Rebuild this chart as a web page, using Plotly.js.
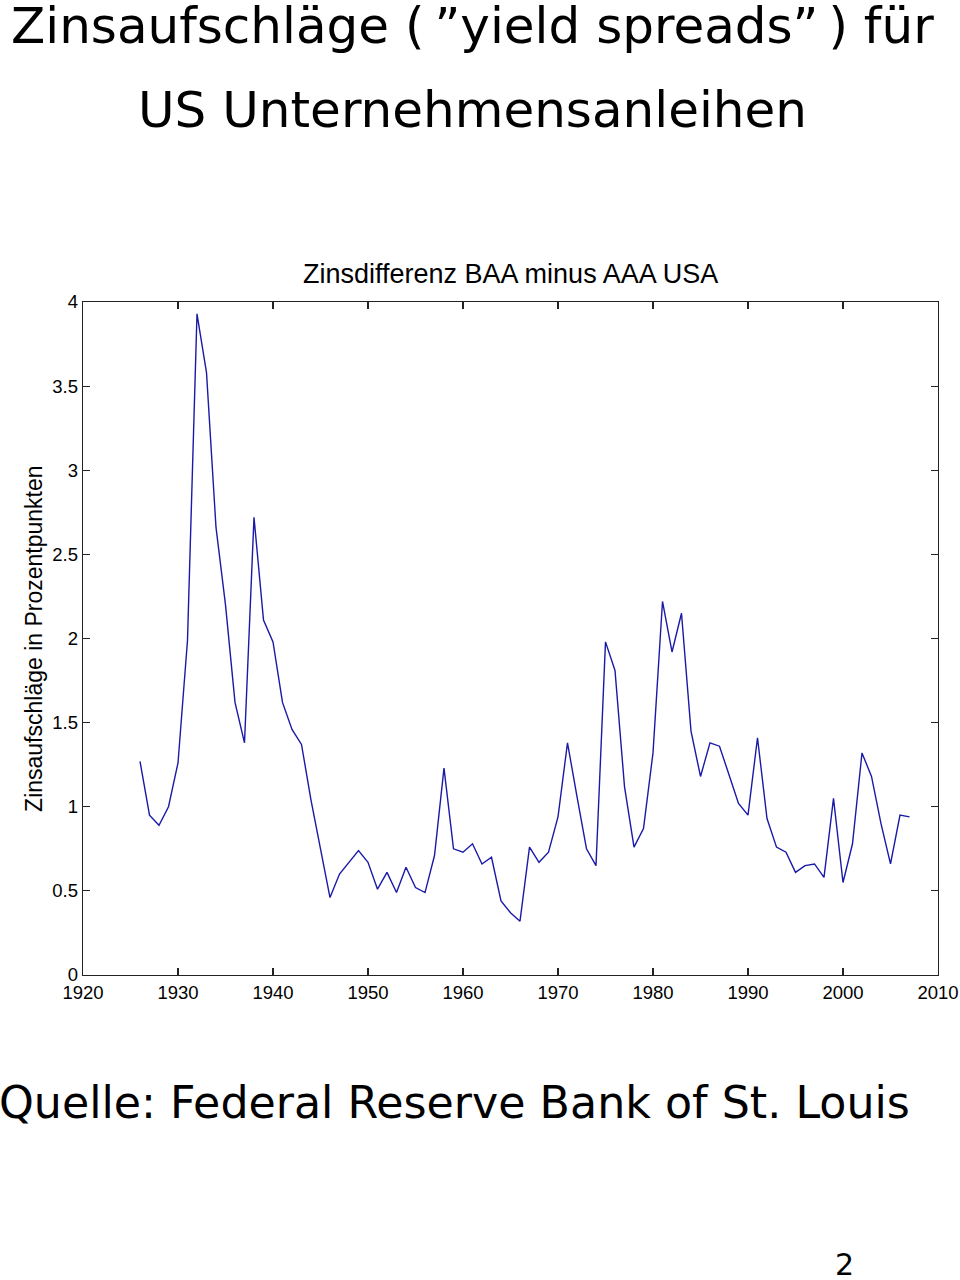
<!DOCTYPE html>
<html>
<head>
<meta charset="utf-8">
<script src="https://cdn.plot.ly/plotly-3.0.1.min.js"></script>
<style>
html,body{margin:0;padding:0;background:#fff;}
#chart{width:960px;height:1280px;}
</style>
</head>
<body>
<div id="chart"></div>
<script>
const years = [];
for (let y = 1926; y <= 2007; y++) years.push(y);
const spreads = [
  1.27, 0.95, 0.89, 1.00, 1.26, 1.99, 3.93, 3.58, 2.66, 2.20,
  1.62, 1.38, 2.72, 2.11, 1.98, 1.62, 1.46, 1.37, 1.04, 0.75,
  0.46, 0.60, 0.67, 0.74, 0.67, 0.51, 0.61, 0.49, 0.64, 0.52,
  0.49, 0.71, 1.23, 0.75, 0.73, 0.78, 0.66, 0.70, 0.44, 0.37,
  0.32, 0.76, 0.67, 0.73, 0.94, 1.38, 1.06, 0.75, 0.65, 1.98,
  1.81, 1.12, 0.76, 0.87, 1.32, 2.22, 1.92, 2.15, 1.45, 1.18,
  1.38, 1.36, 1.19, 1.02, 0.95, 1.41, 0.93, 0.76, 0.73, 0.61,
  0.65, 0.66, 0.58, 1.05, 0.55, 0.78, 1.32, 1.18, 0.90, 0.66,
  0.95, 0.94
];
const xTickVals = [1920, 1930, 1940, 1950, 1960, 1970, 1980, 1990, 2000, 2010];
const xTickText = ["1920","1930","1940","1950","1960","1970","1980","1990","2000","2010"];
const yTickVals = [0, 0.5, 1, 1.5, 2, 2.5, 3, 3.5, 4];
const yTickText = ["0","0.5","1","1.5","2","2.5","3","3.5","4"];

const headFont = {family: "DejaVu Sans, sans-serif", size: 50, color: "#000"};
const axFont = {family: "Liberation Sans, Arial, sans-serif", size: 18.5, color: "#000"};

const trace = {
  x: years, y: spreads, type: "scatter", mode: "lines",
  line: {color: "#1a1aa8", width: 1.4}, hoverinfo: "skip"
};

const layout = {
  width: 960, height: 1280,
  margin: {l: 83, r: 22, t: 302, b: 305},
  paper_bgcolor: "#fff", plot_bgcolor: "#fff",
  showlegend: false,
  font: axFont,
  xaxis: {
    range: [1920, 2010], tickvals: xTickVals, ticktext: xTickText,
    ticks: "inside", ticklen: 7, tickcolor: "#222", tickwidth: 1.2,
    showline: true, linecolor: "#222", linewidth: 1.3, mirror: "ticks",
    showgrid: false, zeroline: false, tickfont: axFont
  },
  yaxis: {
    range: [0, 4], tickvals: yTickVals, ticktext: yTickText,
    ticks: "inside", ticklen: 7, tickcolor: "#222", tickwidth: 1.2,
    showline: true, linecolor: "#222", linewidth: 1.3, mirror: "ticks",
    showgrid: false, zeroline: false, tickfont: axFont
  },
  annotations: [
    {text: "Zinsaufschläge (\u2009”yield spreads”\u2009) für", xref: "paper", yref: "paper",
     x: 0.455, y: 1.410, xanchor: "center", yanchor: "middle", showarrow: false, font: headFont},
    {text: "US Unternehmensanleihen", xref: "paper", yref: "paper",
     x: 0.455, y: 1.285, xanchor: "center", yanchor: "middle", showarrow: false, font: headFont},
    {text: "Zinsdifferenz BAA minus AAA USA", xref: "paper", yref: "paper",
     x: 0.4995, y: 1.041, xanchor: "center", yanchor: "middle", showarrow: false,
     font: {family: "Liberation Sans, Arial, sans-serif", size: 27, color: "#000"}},
    {text: "Zinsaufschläge in Prozentpunkten", xref: "paper", yref: "paper",
     x: -0.058, y: 0.5, xanchor: "center", yanchor: "middle", textangle: -90, showarrow: false,
     font: {family: "Liberation Sans, Arial, sans-serif", size: 23, color: "#000"}},
    {text: "Quelle: Federal Reserve Bank of St. Louis", xref: "paper", yref: "paper",
     x: 0.435, y: -0.190, xanchor: "center", yanchor: "middle", showarrow: false,
     font: {family: "DejaVu Sans, sans-serif", size: 44.3, color: "#000"}},
    {text: "2", xref: "paper", yref: "paper",
     x: 0.891, y: -0.430, xanchor: "center", yanchor: "middle", showarrow: false,
     font: {family: "DejaVu Sans, sans-serif", size: 30, color: "#000"}}
  ]
};

Plotly.newPlot("chart", [trace], layout, {displayModeBar: false, staticPlot: true});
</script>
</body>
</html>
